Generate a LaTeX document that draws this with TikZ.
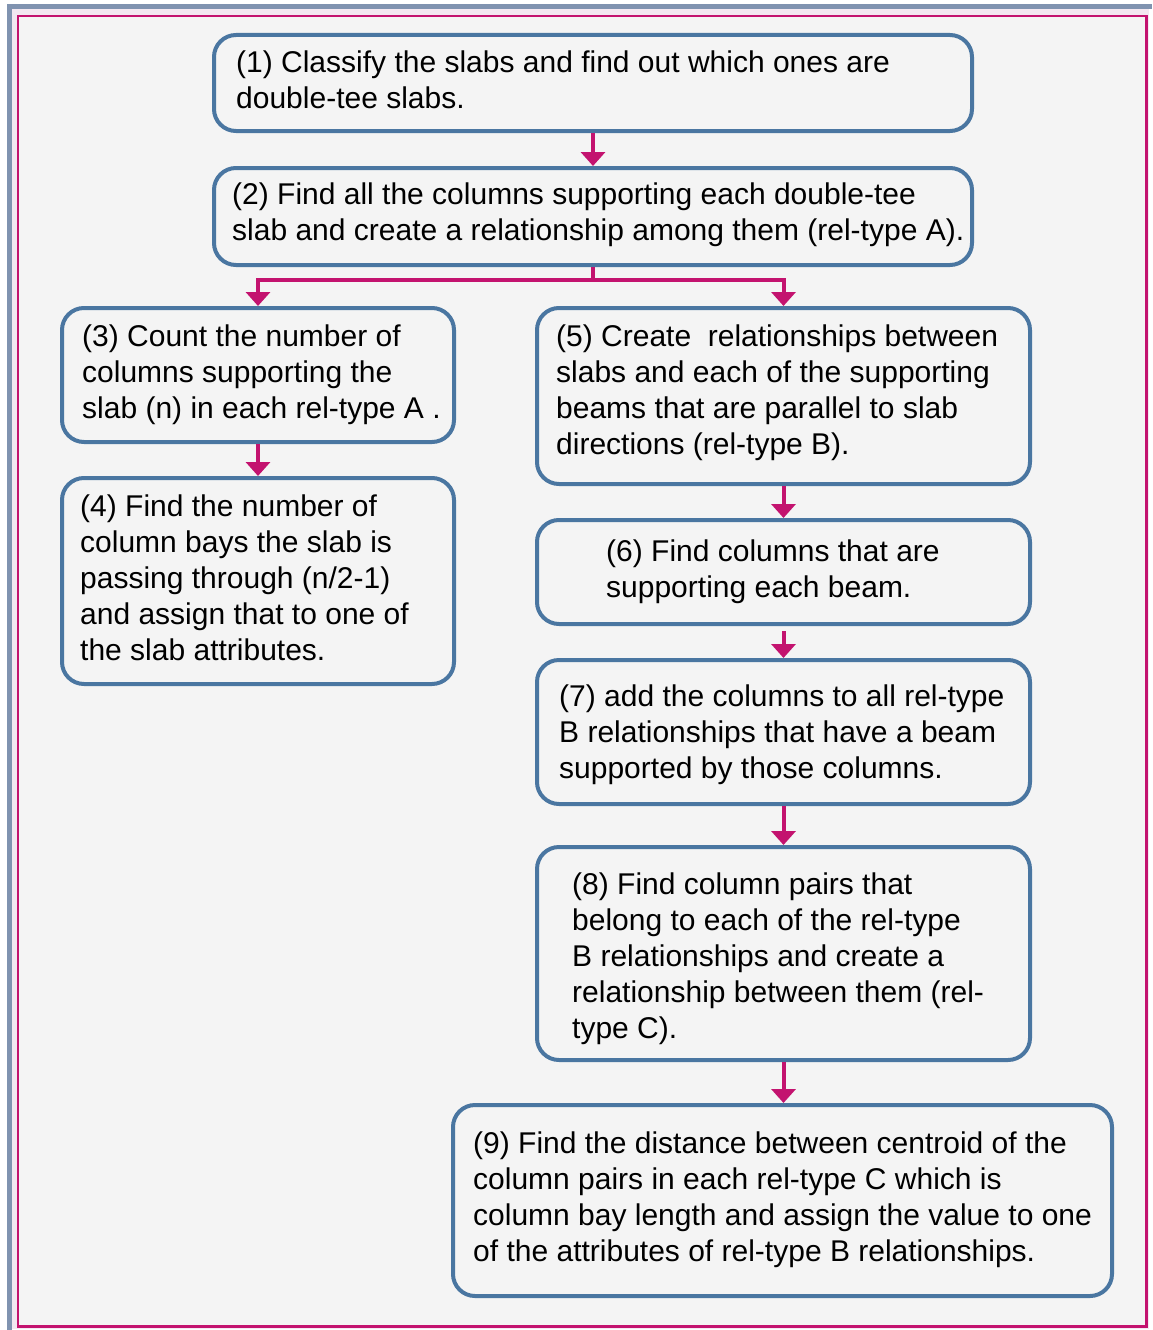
\documentclass[tikz,border=0pt]{standalone}
\usepackage{fontspec}
\setmainfont{Liberation Sans}
\usetikzlibrary{arrows.meta}
\definecolor{pagebg}{HTML}{F4F4F4}
\definecolor{boxline}{HTML}{4A76A1}
\definecolor{flow}{HTML}{C3136F}
\definecolor{frameband}{HTML}{8093B0}
\definecolor{framelight}{HTML}{F3E8F1}
\tikzset{
  stepbox/.style={draw=boxline, line width=4pt, rounded corners=22pt, fill=pagebg,
    inner sep=0pt, anchor=north west},
  steptext/.style={anchor=west, align=left, inner sep=0pt,
    font=\fontsize{30}{36}\selectfont, text=black},
  flowline/.style={draw=flow, line width=4pt},
  flowarrow/.style={flowline, -{Triangle[width=24pt,length=14pt]}},
}
\begin{document}
\begin{tikzpicture}[x=1pt,y=-1pt]
\useasboundingbox (0,0) rectangle (1152,1330);
% frame
\fill[white] (0,0) rectangle (1152,1330);
\fill[frameband] (7,4) rectangle (1152,1330);
\fill[framelight] (12,9) rectangle (1152,1330);
\fill[white] (1149,9) rectangle (1152,1330);
\fill[white] (12,1329) rectangle (1152,1330);
\fill[pagebg] (19,17) rectangle (1145,1325);
\draw[flow, line width=2.5pt] (18,16) rectangle (1146.5,1326.5);

% boxes
\node[stepbox, minimum width=758pt, minimum height=96pt] (b1) at (212,33) {};
\node[stepbox, minimum width=758pt, minimum height=97pt] (b2) at (212,166) {};
\node[stepbox, minimum width=392pt, minimum height=134pt] (b3) at (60,306) {};
\node[stepbox, minimum width=392pt, minimum height=206pt] (b4) at (60,476) {};
\node[stepbox, minimum width=493pt, minimum height=176pt] (b5) at (535,306) {};
\node[stepbox, minimum width=493pt, minimum height=104pt] (b6) at (535,518) {};
\node[stepbox, minimum width=493pt, minimum height=144pt] (b7) at (535,658) {};
\node[stepbox, minimum width=493pt, minimum height=213pt] (b8) at (535,845) {};
\node[stepbox, minimum width=659pt, minimum height=191pt] (b9) at (451,1103) {};

% texts
\node[steptext] (t1) at ([xshift=24pt,yshift=3pt]b1.west)
  {(1) Classify the slabs and find out which ones are\\double-tee slabs.};
\node[steptext] (t2) at ([xshift=20pt,yshift=2pt]b2.west)
  {(2) Find all the columns supporting each double-tee\\slab and create a relationship among them (rel-type A).};
\node[steptext] (t3) at ([xshift=22pt,yshift=0pt]b3.west)
  {(3) Count the number of\\columns supporting the\\slab (n) in each rel-type A .};
\node[steptext] (t4) at ([xshift=20pt,yshift=3pt]b4.west)
  {(4) Find the number of\\column bays the slab is\\passing through (n/2-1)\\and assign that to one of\\the slab attributes.};
\node[steptext] (t5) at ([xshift=21pt,yshift=3pt]b5.west)
  {(5) Create\ \ relationships between\\slabs and each of the supporting\\beams that are parallel to slab\\directions (rel-type B).};
\node[steptext] (t6) at ([xshift=71pt,yshift=0pt]b6.west)
  {(6) Find columns that are\\supporting each beam.};
\node[steptext] (t7) at ([xshift=24pt,yshift=-3pt]b7.west)
  {(7) add the columns to all rel-type\\B relationships that have a beam\\supported by those columns.};
\node[steptext] (t8) at ([xshift=37pt,yshift=-5pt]b8.west)
  {(8) Find column pairs that\\belong to each of the rel-type\\B relationships and create a\\relationship between them (rel-\\type C).};
\node[steptext] (t9) at ([xshift=22pt,yshift=1pt]b9.west)
  {(9) Find the distance between centroid of the\\column pairs in each rel-type C which is\\column bay length and assign the value to one\\of the attributes of rel-type B relationships.};

% connectors
\coordinate (split) at (b2.south |- 0,280);
\draw[flowarrow] (b1.south) -- (b2.north);
\draw[flowline] (b2.south) -- (split);
\draw[flowarrow] (split) -| (b3.north);
\draw[flowarrow] (split) -| (b5.north);
\draw[flowarrow] (b3.south) -- (b4.north);
\draw[flowarrow] (b5.south) -- (b6.north);
\draw[flowarrow] ([yshift=-5pt]b6.south) -- (b7.north);
\draw[flowarrow] (b7.south) -- (b8.north);
\draw[flowarrow] (b8.south) -- (b8.south |- b9.north);
\end{tikzpicture}
\end{document}
